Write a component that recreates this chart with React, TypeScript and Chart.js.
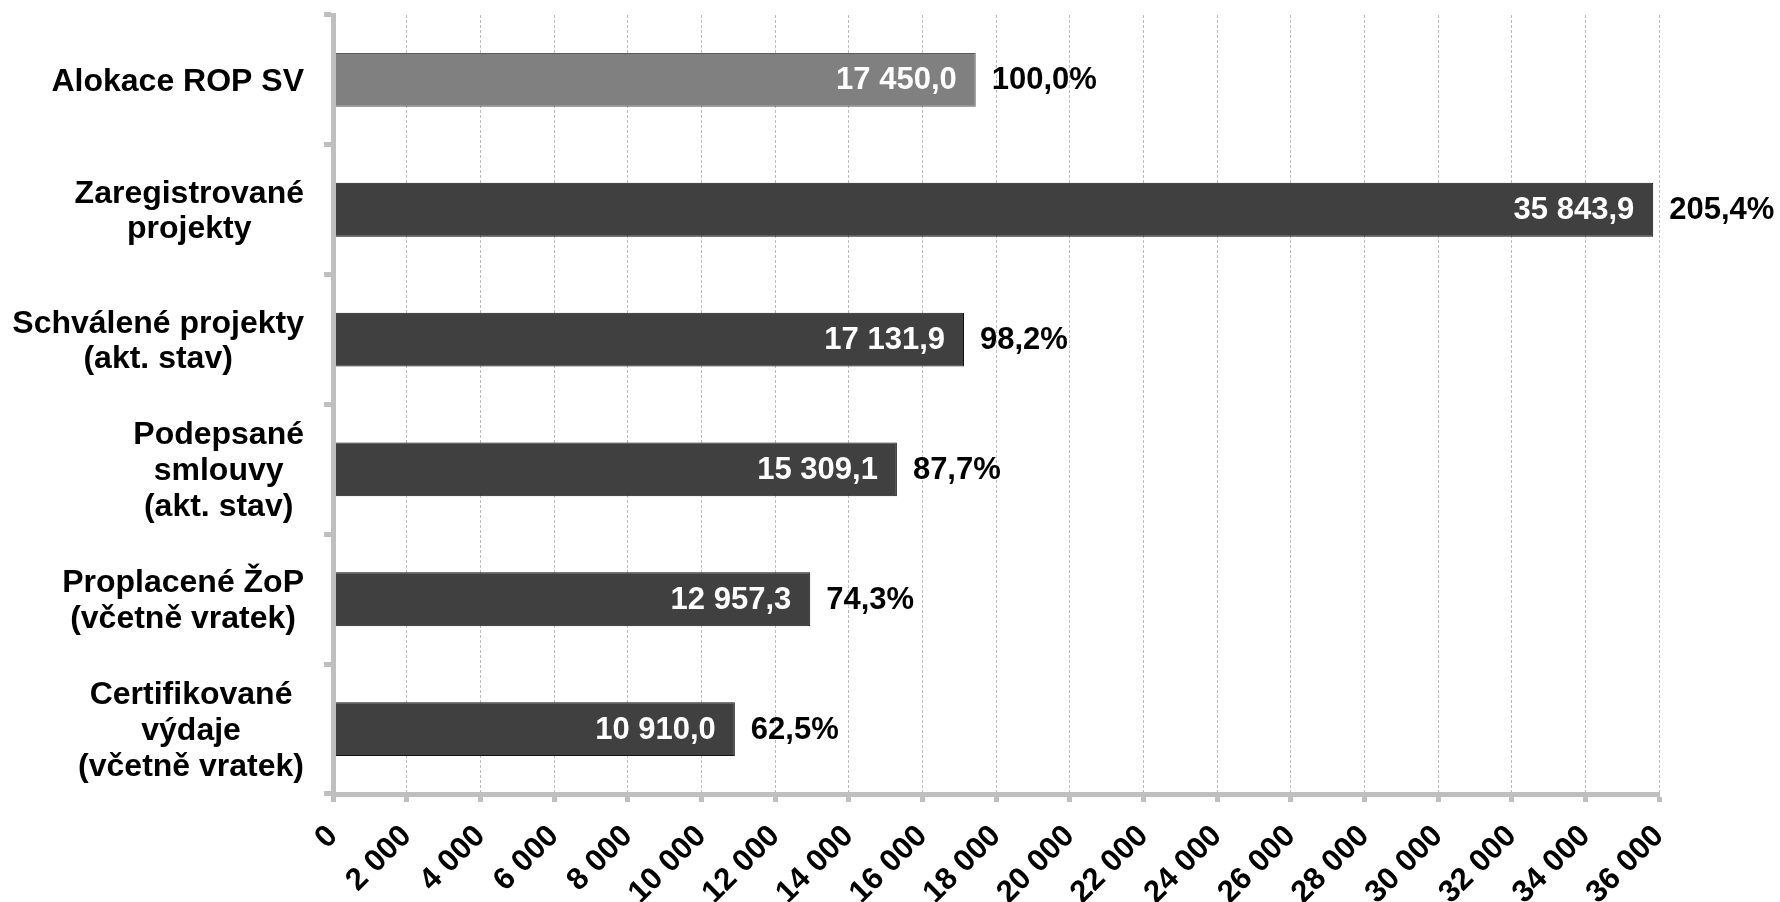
import React, { useEffect, useRef } from "react";
import { Chart, registerables } from "chart.js";

Chart.register(...registerables);

const FONT = "'Liberation Sans', Arial, sans-serif";

const categories: string[][] = [
  ["Alokace ROP SV"],
  ["Zaregistrované", "projekty"],
  ["Schválené projekty", "(akt. stav)"],
  ["Podepsané", "smlouvy", "(akt. stav)"],
  ["Proplacené ŽoP", "(včetně vratek)"],
  ["Certifikované", "výdaje", "(včetně vratek)"],
];

const values: number[] = [17450.0, 35843.9, 17131.9, 15309.1, 12957.3, 10910.0];
const percentLabels: string[] = ["100,0%", "205,4%", "98,2%", "87,7%", "74,3%", "62,5%"];
const barColors: string[] = ["#808080", "#404040", "#404040", "#404040", "#404040", "#404040"];
const barBorders: string[] = ["#5a5a5a", "#111111", "#111111", "#111111", "#111111", "#111111"];

const X_MIN = 0;
const X_MAX = 36000;
const X_STEP = 2000;

function fmt(v: number, decimals: number): string {
  const fixed = v.toFixed(decimals);
  const [intPart, decPart] = fixed.split(".");
  const grouped = intPart.replace(/\B(?=(\d{3})+(?!\d))/g, " ");
  return decPart !== undefined ? `${grouped},${decPart}` : grouped;
}

const labelPlugin = {
  id: "customLabels",
  afterDraw(chart: any) {
    const ctx = chart.ctx as CanvasRenderingContext2D;
    const meta = chart.getDatasetMeta(0);
    const yScale = chart.scales.y;
    ctx.save();
    ctx.textBaseline = "middle";
    meta.data.forEach((bar: any, i: number) => {
      const x = bar.x;
      const y = bar.y;
      ctx.font = `bold 31px ${FONT}`;
      ctx.fillStyle = "#ffffff";
      ctx.textAlign = "right";
      ctx.fillText(fmt(values[i], 1), x - 19, y + 1);
      ctx.fillStyle = "#000000";
      ctx.textAlign = "left";
      ctx.fillText(percentLabels[i], x + 16, y + 1);

      ctx.font = `bold 32px ${FONT}`;
      const lines = categories[i];
      const widths = lines.map((l) => ctx.measureText(l).width);
      const maxW = Math.max(...widths);
      const cx = 304 - maxW / 2;
      const lh = 35.8;
      const cy = yScale.getPixelForTick(i);
      const y0 = cy - ((lines.length - 1) * lh) / 2;
      ctx.textAlign = "center";
      lines.forEach((l, j) => ctx.fillText(l, cx, y0 + j * lh + 2));
    });
    ctx.restore();
  },
};

export default function App() {
  const canvasRef = useRef<HTMLCanvasElement | null>(null);

  useEffect(() => {
    if (!canvasRef.current) return;
    const chart = new Chart(canvasRef.current, {
      type: "bar",
      data: {
        labels: categories.map((c) => c.join(" ")),
        datasets: [
          {
            data: values,
            backgroundColor: barColors,
            borderColor: barBorders,
            borderWidth: 1,
            borderSkipped: false,
            categoryPercentage: 0.415,
            barPercentage: 1,
          },
        ],
      },
      options: {
        indexAxis: "y",
        responsive: false,
        maintainAspectRatio: false,
        animation: false,
        layout: { padding: { top: 15, right: 121, left: 0, bottom: 0 } },
        plugins: {
          legend: { display: false },
          tooltip: { enabled: false },
        },
        scales: {
          x: {
            type: "linear",
            min: X_MIN,
            max: X_MAX,
            afterFit: (s: any) => {
              s.height = 108;
            },
            ticks: {
              stepSize: X_STEP,
              autoSkip: false,
              minRotation: 45,
              maxRotation: 45,
              color: "#000000",
              padding: 16,
              font: { family: FONT, size: 31, weight: "bold" },
              callback: (v: any) => fmt(Number(v), 0),
            },
            grid: {
              color: "#bcbcbc",
              lineWidth: 1,
              tickColor: "#bfbfbf",
              tickWidth: 5,
              tickLength: 8,
            },
            border: { color: "#bfbfbf", width: 5, dash: [3, 2], z: 1 },
          },
          y: {
            type: "category",
            offset: true,
            afterFit: (s: any) => {
              s.width = 333;
            },
            ticks: { display: false },
            grid: {
              offset: true,
              drawOnChartArea: false,
              tickColor: "#bfbfbf",
              tickWidth: 5,
              tickLength: 9,
            },
            border: { color: "#bfbfbf", width: 5, z: 1 },
          },
        },
      },
      plugins: [labelPlugin],
    } as any);
    return () => chart.destroy();
  }, []);

  return (
    <div style={{ position: "absolute", left: 0, top: 0, width: 1780, height: 902, background: "#ffffff" }}>
      <canvas ref={canvasRef} width={1780} height={902} style={{ display: "block" }} />
    </div>
  );
}
